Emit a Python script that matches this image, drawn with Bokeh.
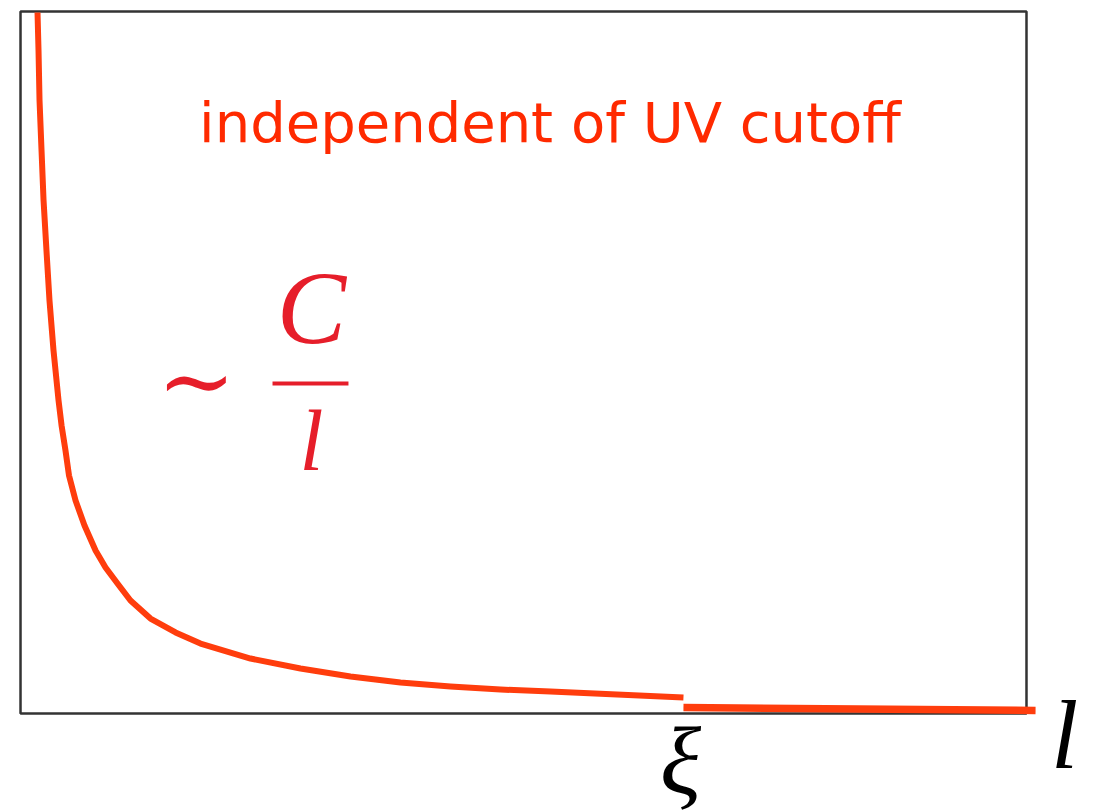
from bokeh.plotting import figure
from bokeh.models import Range1d
from bokeh.core.properties import value
from bokeh.embed import file_html
from bokeh.resources import INLINE

# Curve ~ C/l below the correlation length (arbitrary units)
l_short = [0.169, 0.179, 0.189, 0.209, 0.229, 0.258, 0.288, 0.328, 0.378,
           0.408, 0.447, 0.482, 0.547, 0.636, 0.746, 0.845, 0.964, 1.093,
           1.292, 1.541, 1.789, 2.286, 2.783, 3.280, 3.777, 4.274, 4.771,
           5.268, 6.590]
f_short = [9.986, 9.444, 8.732, 8.020, 7.308, 6.595, 5.883, 5.171, 4.459,
           4.103, 3.746, 3.390, 3.034, 2.678, 2.322, 2.080, 1.852, 1.610,
           1.353, 1.154, 0.997, 0.783, 0.641, 0.527, 0.442, 0.385, 0.342,
           0.313, 0.228]

# Flat part beyond xi
l_long = [6.590, 10.09]
f_long = [0.085, 0.043]

# Box (axes frame)
box_left, box_right, box_bottom, box_top = [0.0], [10.0], [0.0], [10.0]

title_text = "independent of UV cutoff"
xi_label = "ξ"
l_label = "l"

p = figure(width=1094, height=811, output_backend="svg", toolbar_location=None,
           x_range=Range1d(-0.199, 10.676), y_range=Range1d(-1.396, 10.157),
           min_border=0)
p.axis.visible = False
p.grid.visible = False
p.outline_line_color = None
p.background_fill_color = "white"
p.border_fill_color = "white"

p.quad(left=box_left, right=box_right, bottom=box_bottom, top=box_top,
       fill_alpha=0, line_color="#333333", line_width=2.5)

p.line(l_short, f_short, line_color="#FF3D0D", line_width=6, line_join="round")
p.line(l_long, f_long, line_color="#FF3D0D", line_width=7.5)

p.text(x=[5.263], y=[8.412], text=[title_text], text_color="#FF2A00",
       text_font=value("DejaVu Sans"), text_font_size="56px",
       text_align="center", text_baseline="alphabetic")

# ~ C / l
p.text(x=[1.749], y=[4.744], text=["∼"], text_color="#E61E2A",
       text_font=value("DejaVu Serif"), text_font_size="94px",
       text_align="center", text_baseline="middle")
p.text(x=[2.893], y=[5.783], text=["C"], text_color="#E61E2A",
       text_font=value("Liberation Serif"), text_font_style="italic",
       text_font_size="104px", text_align="center", text_baseline="alphabetic")
p.segment(x0=[2.505], y0=[4.701], x1=[3.260], y1=[4.701], line_color="#E61E2A",
          line_width=4)
p.text(x=[2.893], y=[3.882], text=["l"], text_color="#E61E2A",
       text_font=value("Liberation Serif"), text_font_style="italic",
       text_font_size="86px", text_align="center", text_baseline="alphabetic")

p.text(x=[6.561], y=[-0.670], text=[xi_label], text_color="black",
       text_font=value("Liberation Serif"), text_font_style="italic",
       text_font_size="96px", text_align="center", text_baseline="alphabetic")
p.text(x=[10.378], y=[-0.313], text=[l_label], text_color="black",
       text_font=value("Liberation Serif"), text_font_style="italic",
       text_font_size="98px", text_align="center", text_baseline="alphabetic")

open("out.html", "w").write(file_html(p, INLINE))
